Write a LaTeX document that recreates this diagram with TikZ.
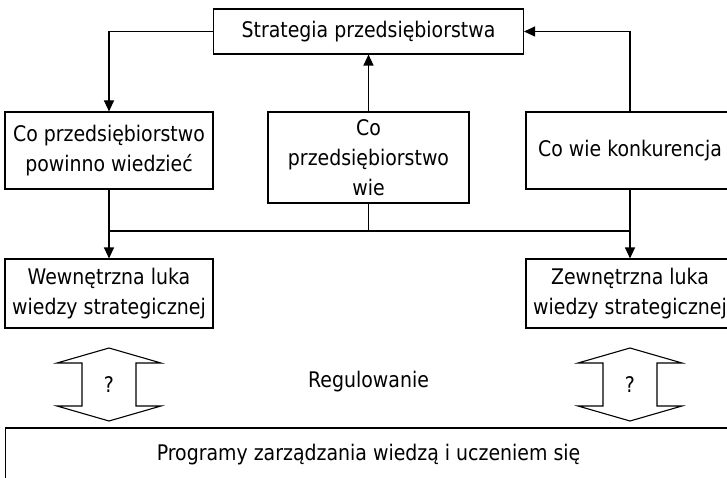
\documentclass[tikz,border=0pt]{standalone}
\usepackage{fontspec}
\setmainfont[FakeStretch=0.88]{DejaVu Sans}
\usepackage{tikz}
\usetikzlibrary{arrows.meta,positioning}

\tikzset{
  box/.style={draw, rectangle, align=center, inner sep=2pt, minimum width=208pt, minimum height=77pt},
  dblarrow/.style={line width=1.1pt, line join=miter}
}

\begin{document}
\begin{tikzpicture}[x=1pt, y=1pt, line width=1.1pt, on grid,
  >={Triangle[length=11pt,width=10pt]},
  font=\fontsize{21.5}{30}\selectfont]
  \useasboundingbox (0,0) rectangle (727,-478);
  \node[box, minimum width=310pt, minimum height=45pt] (strat) at (368.5,-31.5) {Strategia przedsiębiorstwa};
  \node[box] (should) [below left=119pt and 259.5pt of strat] {Co przedsiębiorstwo\\powinno wiedzieć};
  \node[box, minimum width=201pt, minimum height=91pt] (knows) [below=126pt of strat] {Co\\przedsiębiorstwo\\wie};
  \node[box] (comp) [right=521pt of should] {Co wie konkurencja};
  \node[box, minimum height=69pt] (gapin) [below=143pt of should] {Wewnętrzna luka\\wiedzy strategicznej};
  \node[box, minimum height=69pt] (gapout) [below=143pt of comp] {Zewnętrzna luka\\wiedzy strategicznej};
  \node (reg) [below=350pt of strat] {Regulowanie};
  \node (qin) [below=91pt of gapin] {?};
  \node (qout) [below=91pt of gapout] {?};
  \node[box, minimum width=726pt, minimum height=54pt] (prog) [below=423.5pt of strat] {Programy zarządzania wiedzą i uczeniem się};
  \coordinate[below=199.5pt of strat] (bus);
  % strategy loop
  \draw[->] (strat.west) -| (should.north);
  \draw[->] (knows.north) -- (strat.south);
  \draw[->] (comp.north) |- (strat.east);
  % gaps
  \draw (knows.south) -- (bus);
  \draw (should.south |- bus) -- (comp.south |- bus);
  \draw[->] (should.south) -- (gapin.north);
  \draw[->] (comp.south) -- (gapout.north);
  % regulation arrows
  \foreach \q in {qin,qout}
    \draw[dblarrow] (\q.center) ++(0,36.5) -- ++(52,-15) -- ++(-25,0) -- ++(0,-43) -- ++(25,0)
      -- ++(-52,-15) -- ++(-52,15) -- ++(25,0) -- ++(0,43) -- ++(-25,0) -- cycle;
\end{tikzpicture}
\end{document}
